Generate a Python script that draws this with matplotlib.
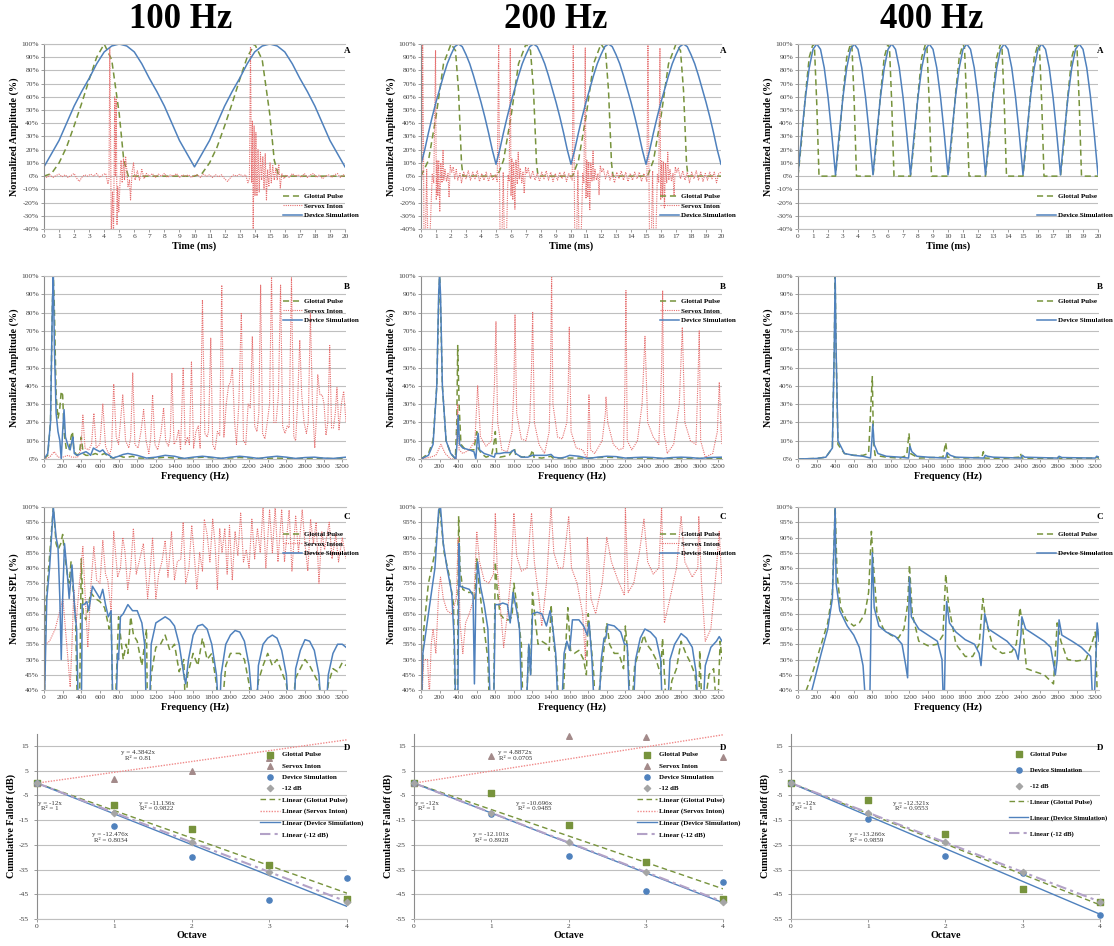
"""
Three-column comparison (100 / 200 / 400 Hz): waveform, spectrum, SPL and
cumulative falloff of glottal pulse, Servox Inton and device simulation.
"""

import numpy as np
import matplotlib
matplotlib.use("Agg")
import matplotlib.pyplot as plt

plt.rcParams["font.family"] = "Liberation Serif"
plt.rcParams["axes.unicode_minus"] = False

W, H = 1114, 946
GREEN = "#77933C"
RED = "#E66E6E"
BLUE = "#4F81BD"
GRID = "#BFBFBF"
AXIS = "#8C8C8C"
TICK = "#404040"
MAUVE = "#A38A8A"
GREY = "#A5A5A5"
LILAC = "#B3A2C7"

# ---------------------------------------------------------------------------
# Row A: time waveforms (ms, %)
# ---------------------------------------------------------------------------

t_half_ms = [i * 0.5 for i in range(41)]
t_quarter_ms = [i * 0.25 for i in range(81)]

dev_a100 = [7, 17, 27, 40, 53, 64, 74, 85, 94, 98.5, 100, 98.5, 94, 85, 74, 64, 53, 40, 27, 17,
            7, 17, 27, 40, 53, 64, 74, 85, 94, 98.5, 100, 98.5, 94, 85, 74, 64, 53, 40, 27, 17, 7]

glot_a100 = [(0, 0), (0.5, 2), (1.0, 10), (1.5, 22), (2.0, 38), (2.5, 55), (3.0, 73), (3.5, 90),
             (4.0, 100), (4.5, 88), (5.0, 47), (5.3, 12), (5.6, 0), (10.0, 0), (10.5, 2), (11.0, 10),
             (11.5, 22), (12.0, 38), (12.5, 55), (13.0, 73), (13.5, 90), (14.0, 100), (14.5, 88),
             (15.0, 47), (15.3, 12), (15.6, 0), (20, 0)]

servox_a100 = [(0, 0), (0.2, -1), (0.4, 1), (0.6, -1), (0.8, 0.5), (1.0, 1.5), (1.2, -0.5), (1.4, 1),
               (1.6, -1), (1.8, 0.5), (2.0, 2), (2.2, -2), (2.35, -4), (2.5, -1), (2.7, 1), (2.9, 0),
               (3.1, 1.5), (3.3, 0), (3.5, 2), (3.7, -1), (3.9, 1), (4.1, 2), (4.25, -6), (4.32, -2),
               (4.37, 97), (4.42, 35), (4.47, -45), (4.55, -12), (4.62, -45), (4.7, 60), (4.74, 0),
               (4.8, 58), (4.85, -37), (4.9, -8), (4.97, -27), (5.05, -5), (5.12, 12), (5.2, -5),
               (5.28, 13), (5.35, -3), (5.42, 15), (5.5, 5), (5.58, -8), (5.68, -3), (5.75, -18),
               (5.85, 3), (5.95, 10), (6.05, -3), (6.2, 4), (6.35, -3), (6.5, 5), (6.65, -2), (6.8, 2),
               (7.0, 0), (7.2, 2), (7.4, -1), (7.6, 1.5), (7.8, 0), (8.0, 2), (8.2, -1), (8.4, 1),
               (8.6, 0), (8.8, 2), (9.0, -1), (9.2, 1), (9.4, 0), (9.6, 1), (9.8, -1), (10.0, 0.5),
               (10.2, 1), (10.4, -1), (10.6, 1.5), (10.8, 0), (11.0, 1), (11.2, -1), (11.4, 1),
               (11.6, -0.5), (11.8, 1), (12.0, -2), (12.2, -4), (12.4, -1), (12.6, 1), (12.8, 0),
               (13.0, 1.5), (13.2, 0), (13.4, 1), (13.55, -5), (13.65, -2), (13.72, 98), (13.76, 40),
               (13.8, -5), (13.85, 42), (13.9, -45), (13.96, 38), (14.02, -15), (14.08, 33),
               (14.15, -15), (14.22, 20), (14.3, -12), (14.38, 18), (14.46, -3), (14.54, 15),
               (14.62, -10), (14.7, 17), (14.78, -18), (14.86, 5), (14.94, -8), (15.02, 10),
               (15.1, -5), (15.2, 8), (15.3, -3), (15.4, 6), (15.5, -3), (15.6, 9), (15.7, -9),
               (15.8, 2), (15.95, -2), (16.1, 1), (16.3, -1), (16.5, 2), (16.7, 0), (16.9, 1),
               (17.1, -1), (17.3, 2), (17.5, -1), (17.7, 1), (17.9, 2), (18.1, -1), (18.3, 1),
               (18.5, -2), (18.7, 0), (18.9, 1), (19.1, -1), (19.3, 1), (19.5, 2), (19.7, -1),
               (19.9, 1), (20, 0)]

dev_a200 = [9, 20, 33, 45, 56, 66, 76, 85, 92, 98, 100, 98, 92, 85, 76, 66, 56, 45, 33, 20,
            9, 20, 33, 45, 56, 66, 76, 85, 92, 98, 100, 98, 92, 85, 76, 66, 56, 45, 33, 20,
            9, 20, 33, 45, 56, 66, 76, 85, 92, 98, 100, 98, 92, 85, 76, 66, 56, 45, 33, 20,
            9, 20, 33, 45, 56, 66, 76, 85, 92, 98, 100, 98, 92, 85, 76, 66, 56, 45, 33, 20, 9]

glot_a200 = [(0, 0), (0.5, 12), (1.0, 45), (1.5, 85), (2.0, 100), (2.3, 95), (2.5, 65), (2.7, 10),
             (2.8, 0), (5.1, 0), (5.5, 12), (6.0, 45), (6.5, 85), (7.0, 100), (7.3, 95), (7.5, 65),
             (7.7, 10), (7.8, 0), (10.1, 0), (10.5, 12), (11.0, 45), (11.5, 85), (12.0, 100),
             (12.3, 95), (12.5, 65), (12.7, 10), (12.8, 0), (15.1, 0), (15.5, 12), (16.0, 45),
             (16.5, 85), (17.0, 100), (17.3, 95), (17.5, 65), (17.7, 10), (17.8, 0), (20, 0)]

servox_a200 = [(0.0, 0), (0.06, -3), (0.11, 102), (0.16, 30), (0.2, -45), (0.3, -45), (0.38, 5),
               (0.45, -45), (0.6, -45), (0.75, 2), (0.85, -5), (0.97, 95), (1.02, -18), (1.07, 12),
               (1.12, -15), (1.18, 12), (1.25, -27), (1.32, 10), (1.4, -5), (1.47, 20), (1.52, -3),
               (1.6, 5), (1.7, -4), (1.8, 2), (1.87, -16), (1.95, 8), (2.05, 3), (2.15, 7),
               (2.25, -2), (2.35, 5), (2.45, -3), (2.6, 2), (2.7, -5), (2.85, 3), (3.0, -2),
               (3.15, 4), (3.3, -3), (3.45, 3), (3.6, -2), (3.75, 4), (3.9, -4), (4.05, 2),
               (4.2, -3), (4.35, 3), (4.5, -4), (4.65, 2), (4.8, -3), (4.95, 1),
               (5.08, -4), (5.18, 101), (5.22, 20), (5.27, -45), (5.4, -45), (5.48, 3), (5.55, -45),
               (5.7, -45), (5.8, 1), (5.88, -4), (5.95, 97), (6.0, -15), (6.06, 13), (6.12, -18),
               (6.18, 10), (6.26, -25), (6.33, 12), (6.42, -6), (6.48, 18), (6.55, -2), (6.62, 6),
               (6.72, -5), (6.8, 3), (6.88, -13), (6.97, 7), (7.05, 2), (7.15, 6), (7.3, -2),
               (7.45, 4), (7.6, -3), (7.75, 2), (7.9, -4), (8.05, 3), (8.2, -2), (8.35, 4),
               (8.5, -3), (8.65, 3), (8.8, -4), (8.95, 2), (9.1, -3), (9.25, 3), (9.4, -2),
               (9.55, 3), (9.7, -4), (9.85, 2), (9.98, -1),
               (10.08, -3), (10.15, 101), (10.2, 25), (10.25, -45), (10.38, -45), (10.46, 4),
               (10.53, -45), (10.68, -45), (10.78, 2), (10.86, -5), (10.95, 97), (11.0, -17),
               (11.06, 12), (11.12, -16), (11.18, 11), (11.25, -26), (11.32, 10), (11.4, -4),
               (11.47, 19), (11.53, -3), (11.6, 5), (11.7, -3), (11.8, 2), (11.87, -14), (11.95, 8),
               (12.05, 3), (12.15, 6), (12.3, -2), (12.45, 4), (12.6, -3), (12.75, 2), (12.9, -5),
               (13.05, 3), (13.2, -2), (13.35, 4), (13.5, -3), (13.65, 3), (13.8, -4), (13.95, 2),
               (14.1, -3), (14.25, 3), (14.4, -2), (14.55, 3), (14.7, -4), (14.85, 2), (14.98, -1),
               (15.06, -4), (15.13, 100), (15.18, 22), (15.23, -45), (15.36, -45), (15.44, 4),
               (15.51, -45), (15.66, -45), (15.76, 2), (15.85, -5), (15.93, 97), (15.98, -18),
               (16.04, 12), (16.1, -16), (16.16, 11), (16.23, -24), (16.3, 10), (16.38, -5),
               (16.45, 18), (16.52, -3), (16.6, 5), (16.7, -4), (16.8, 2), (16.87, -15), (16.95, 7),
               (17.05, 3), (17.15, 6), (17.3, -2), (17.45, 4), (17.6, -3), (17.75, 3), (17.9, -5),
               (18.05, 3), (18.2, -2), (18.35, 4), (18.5, -3), (18.65, 3), (18.8, -4), (18.95, 2),
               (19.1, -3), (19.25, 3), (19.4, -2), (19.55, 3), (19.7, -5), (19.85, 2), (20.0, 3)]

dev_a400 = [1, 32, 60, 82, 96, 100, 96, 82, 60, 32, 1, 32, 60, 82, 96, 100, 96, 82, 60, 32,
            1, 32, 60, 82, 96, 100, 96, 82, 60, 32, 1, 32, 60, 82, 96, 100, 96, 82, 60, 32,
            1, 32, 60, 82, 96, 100, 96, 82, 60, 32, 1, 32, 60, 82, 96, 100, 96, 82, 60, 32,
            1, 32, 60, 82, 96, 100, 96, 82, 60, 32, 1, 32, 60, 82, 96, 100, 96, 82, 60, 32, 1]

glot_a400 = [(0, 0), (0.25, 28), (0.5, 62), (0.75, 90), (1.0, 100), (1.1, 97), (1.25, 55), (1.4, 0),
             (2.5, 0), (2.75, 28), (3.0, 62), (3.25, 90), (3.5, 100), (3.6, 97), (3.75, 55), (3.9, 0),
             (5.0, 0), (5.25, 28), (5.5, 62), (5.75, 90), (6.0, 100), (6.1, 97), (6.25, 55), (6.4, 0),
             (7.5, 0), (7.75, 28), (8.0, 62), (8.25, 90), (8.5, 100), (8.6, 97), (8.75, 55), (8.9, 0),
             (10.0, 0), (10.25, 28), (10.5, 62), (10.75, 90), (11.0, 100), (11.1, 97), (11.25, 55),
             (11.4, 0), (12.5, 0), (12.75, 28), (13.0, 62), (13.25, 90), (13.5, 100), (13.6, 97),
             (13.75, 55), (13.9, 0), (15.0, 0), (15.25, 28), (15.5, 62), (15.75, 90), (16.0, 100),
             (16.1, 97), (16.25, 55), (16.4, 0), (17.5, 0), (17.75, 28), (18.0, 62), (18.25, 90),
             (18.5, 100), (18.6, 97), (18.75, 55), (18.9, 0), (20.0, 0)]

# ---------------------------------------------------------------------------
# Row B: normalized amplitude spectra (Hz, %)
# ---------------------------------------------------------------------------

glot_b100 = [(0, 0), (40, 2), (70, 20), (90, 85), (100, 100), (110, 85), (130, 35), (150, 22),
             (170, 28), (185, 37), (200, 35), (215, 15), (240, 5), (270, 5), (290, 12), (305, 15),
             (320, 5), (350, 2), (380, 3), (400, 12), (420, 3), (450, 2), (500, 2), (550, 3),
             (600, 2), (650, 3), (700, 1), (750, 0.5), (800, 2), (850, 1), (900, 1), (950, 1.5),
             (1000, 0.5), (1100, 0.5), (1200, 0.5), (1300, 1), (1400, 0.5), (1500, 0.3), (1700, 1),
             (1900, 0.3), (2100, 0.8), (2300, 0.3), (2500, 0.5), (2700, 0.2), (2900, 0.5),
             (3100, 0.2), (3240, 0.5)]
dev_b100 = [(0, 0), (40, 3), (70, 20), (90, 85), (100, 101), (112, 60), (130, 25), (150, 15),
            (170, 10), (185, 0), (200, 15), (215, 27), (230, 12), (260, 7), (280, 5), (300, 10),
            (310, 12), (325, 3), (360, 2), (400, 3), (450, 4), (480, 3), (500, 2), (530, 6),
            (560, 5), (600, 4), (630, 5), (660, 3), (700, 2), (740, 0.5), (800, 1.5), (850, 2.5),
            (900, 3), (950, 2.5), (1000, 2), (1100, 0.5), (1200, 1), (1300, 2), (1400, 1.5),
            (1500, 0.3), (1600, 1), (1700, 1.5), (1800, 1), (1900, 0.3), (2000, 1), (2100, 1.5),
            (2200, 1), (2300, 0.3), (2400, 1), (2500, 1.5), (2600, 1), (2700, 0.3), (2800, 0.8),
            (2900, 1), (3000, 0.5), (3100, 0.3), (3240, 1)]
servox_b100 = [(0, 0), (60, 1), (110, 4), (150, 1), (200, 1), (260, 2), (300, 1), (360, 1), (395, 5),
               (417, 24), (440, 6), (480, 5), (510, 8), (535, 25), (560, 6), (600, 8), (631, 30),
               (660, 7), (700, 2), (725, 6), (748, 41), (775, 12), (800, 8), (820, 20), (845, 35),
               (875, 10), (910, 6), (930, 12), (952, 47), (975, 8), (1010, 6), (1040, 15),
               (1069, 27), (1095, 10), (1125, 3), (1145, 12), (1165, 35), (1190, 8), (1220, 5),
               (1255, 14), (1283, 28), (1305, 10), (1335, 7), (1355, 12), (1372, 47), (1395, 8),
               (1420, 10), (1445, 16), (1465, 5), (1493, 50), (1515, 8), (1540, 12), (1560, 8),
               (1582, 53), (1605, 6), (1630, 15), (1655, 18), (1675, 6), (1700, 87), (1725, 14),
               (1750, 12), (1765, 15), (1789, 66), (1810, 8), (1835, 5), (1860, 15), (1885, 13),
               (1907, 95), (1930, 12), (1955, 30), (1980, 40), (2000, 42), (2021, 50), (2045, 20),
               (2065, 8), (2090, 30), (2117, 80), (2140, 10), (2165, 8), (2190, 30), (2213, 28),
               (2235, 67), (2260, 18), (2285, 15), (2305, 25), (2324, 95), (2345, 14), (2370, 11),
               (2395, 20), (2420, 30), (2441, 100), (2465, 20), (2490, 20), (2515, 35), (2538, 95),
               (2560, 18), (2585, 14), (2610, 18), (2630, 17), (2655, 99), (2680, 12), (2700, 10),
               (2720, 30), (2744, 65), (2765, 35), (2790, 20), (2815, 14), (2835, 20), (2858, 80),
               (2880, 30), (2905, 6), (2920, 20), (2937, 46), (2960, 35), (2985, 35), (3005, 30),
               (3025, 13), (3045, 20), (3065, 62), (3085, 17), (3105, 17), (3125, 25), (3143, 39),
               (3165, 16), (3190, 30), (3215, 37), (3240, 20)]

glot_b200 = [(0, 0), (80, 3), (130, 10), (170, 40), (190, 85), (200, 100), (210, 85), (230, 40),
             (270, 10), (320, 3), (370, 0), (385, 20), (395, 62), (410, 30), (430, 8), (480, 5),
             (540, 5), (570, 5), (590, 12), (600, 15), (615, 6), (650, 3), (700, 1), (760, 2),
             (790, 10), (800, 15), (815, 3), (850, 1), (950, 2), (990, 5), (1005, 6), (1020, 2),
             (1100, 1), (1180, 2), (1200, 5), (1215, 1), (1300, 0.5), (1400, 1.5), (1420, 0.5),
             (1600, 0.5), (1800, 0.5), (2000, 1), (2200, 0.5), (2400, 0.5), (2600, 0.3),
             (2800, 0.5), (3000, 0.3), (3240, 0.3)]
dev_b200 = [(0, 0), (80, 2), (130, 8), (170, 40), (190, 90), (200, 101), (210, 90), (230, 40),
            (270, 10), (320, 3), (375, 0), (390, 10), (400, 24), (415, 8), (450, 6), (520, 5),
            (570, 4), (590, 0), (605, 10), (615, 14), (630, 5), (680, 3), (740, 2), (790, 1),
            (800, 3), (850, 3), (900, 3.5), (960, 3.5), (1000, 5), (1020, 3), (1080, 1), (1150, 1),
            (1200, 2), (1250, 2), (1350, 2), (1400, 2.5), (1430, 1), (1500, 0.5), (1550, 1),
            (1600, 2), (1700, 1.5), (1800, 0.3), (1900, 1), (2000, 1.5), (2100, 1.3), (2200, 0.5),
            (2300, 0.8), (2400, 1), (2500, 0.8), (2600, 0.3), (2700, 0.8), (2800, 1), (2900, 0.8),
            (3000, 0.3), (3100, 0.8), (3240, 1)]
servox_b200 = [(0, 0), (100, 1), (160, 2), (215, 8), (260, 3), (320, 0), (380, 0), (395, 30),
               (410, 5), (450, 3), (520, 5), (580, 10), (610, 40), (640, 12), (700, 7), (760, 10),
               (790, 40), (807, 75), (825, 20), (870, 5), (930, 4), (980, 15), (1000, 40),
               (1012, 79), (1030, 25), (1080, 11), (1130, 10), (1170, 20), (1190, 50), (1202, 80),
               (1220, 20), (1270, 8), (1330, 3), (1380, 15), (1395, 50), (1406, 100), (1420, 30),
               (1470, 12), (1520, 11), (1570, 20), (1585, 40), (1596, 72), (1615, 15), (1670, 6),
               (1740, 5), (1790, 0), (1800, 20), (1808, 35), (1825, 5), (1870, 3), (1950, 10),
               (1985, 25), (1991, 34), (2010, 20), (2070, 8), (2130, 5), (2180, 6), (2195, 40),
               (2206, 92), (2220, 10), (2270, 5), (2330, 10), (2380, 30), (2411, 67), (2440, 20),
               (2500, 12), (2560, 8), (2590, 50), (2601, 92), (2615, 15), (2650, 3), (2720, 8),
               (2780, 30), (2813, 72), (2840, 20), (2900, 10), (2960, 8), (2985, 50), (2995, 70),
               (3010, 10), (3060, 1), (3140, 3), (3190, 15), (3211, 42), (3230, 15), (3240, 8)]

glot_b400 = [(0, 0), (200, 0.3), (300, 1), (370, 6), (390, 60), (400, 100), (410, 60), (430, 8),
             (500, 3), (600, 2), (700, 2), (760, 3), (785, 30), (800, 45), (812, 10), (830, 2),
             (950, 1), (1100, 0.5), (1170, 2), (1195, 14), (1210, 3), (1300, 0.5), (1560, 1),
             (1590, 9), (1610, 1), (1800, 0.5), (1980, 1), (1995, 4), (2010, 0.5), (2200, 0.3),
             (2380, 1), (2395, 3), (2410, 0.5), (2600, 0.3), (2790, 0.5), (2800, 1), (2820, 0.3),
             (3200, 0.5), (3220, 1), (3240, 0.3)]
dev_b400 = [(0, 0), (200, 0.3), (300, 1), (370, 6), (390, 60), (400, 100), (410, 60), (430, 10),
            (500, 3), (600, 2), (700, 1.5), (780, 0.5), (795, 10), (805, 19), (820, 8), (860, 3),
            (950, 1.5), (1100, 1), (1190, 0.5), (1205, 7), (1225, 4), (1280, 1.5), (1400, 1),
            (1590, 0.5), (1605, 3.5), (1640, 2), (1700, 1), (2000, 0.5), (2015, 2), (2040, 1.5),
            (2100, 1), (2400, 0.5), (2415, 2), (2440, 1), (2800, 0.5), (2810, 1.5), (2840, 0.8),
            (3200, 0.5), (3215, 1.5), (3240, 1)]

# ---------------------------------------------------------------------------
# Row C: normalized SPL (Hz, %)
# ---------------------------------------------------------------------------

glot_c100 = [(0, 30), (20, 68), (50, 80), (100, 100), (130, 88), (150, 86), (180, 88), (200, 91),
             (220, 85), (250, 78), (270, 75), (290, 82), (310, 74), (340, 62), (360, 30), (380, 30),
             (400, 83), (420, 65), (450, 63), (480, 68), (500, 72), (550, 70), (600, 69),
             (650, 67), (700, 60), (720, 65), (740, 30), (760, 30), (800, 64), (820, 58), (850, 50),
             (880, 55), (900, 52), (930, 64), (960, 58), (1000, 56), (1050, 48), (1100, 60),
             (1110, 30), (1130, 30), (1150, 45), (1200, 54), (1250, 55), (1300, 58), (1350, 53),
             (1400, 55), (1450, 46), (1500, 50), (1520, 30), (1540, 45), (1600, 52), (1650, 48),
             (1700, 57), (1750, 50), (1800, 52), (1850, 42), (1880, 30), (1900, 30), (1950, 48),
             (2000, 52), (2100, 52), (2150, 50), (2200, 42), (2250, 30), (2300, 43), (2350, 48),
             (2400, 52), (2450, 48), (2500, 50), (2550, 46), (2600, 42), (2650, 30), (2700, 44),
             (2800, 50), (2850, 48), (2900, 45), (2950, 42), (3000, 30), (3050, 42), (3100, 47),
             (3150, 46), (3200, 49), (3240, 48)]
dev_c100 = [(0, 30), (30, 70), (60, 80), (100, 100), (130, 90), (150, 87), (170, 70), (185, 50),
            (200, 70), (220, 88), (250, 78), (270, 70), (300, 81), (330, 66), (350, 60), (370, 30),
            (400, 30), (410, 68), (430, 68), (460, 69), (480, 66), (520, 74), (560, 72), (600, 70),
            (630, 73), (660, 68), (690, 64), (720, 66), (740, 30), (770, 30), (790, 52), (800, 50),
            (820, 64), (850, 65), (900, 68), (950, 66), (1000, 66), (1050, 62), (1080, 55),
            (1100, 30), (1130, 30), (1150, 55), (1200, 62), (1250, 63), (1300, 64), (1350, 63),
            (1400, 61), (1450, 55), (1500, 45), (1520, 42), (1550, 50), (1600, 58), (1650, 61),
            (1700, 61.5), (1750, 60), (1800, 55), (1850, 45), (1880, 30), (1900, 45), (1950, 55),
            (2000, 58), (2050, 59.5), (2100, 59), (2150, 56), (2200, 48), (2250, 30), (2280, 30),
            (2300, 48), (2350, 55), (2400, 57), (2450, 58), (2500, 57), (2550, 53), (2600, 45),
            (2630, 30), (2680, 30), (2700, 47), (2750, 53), (2800, 56.5), (2850, 56), (2900, 53),
            (2950, 45), (2980, 30), (3020, 30), (3050, 45), (3100, 52), (3150, 55), (3200, 55),
            (3240, 54)]
servox_c100 = [(0, 30), (15, 55), (60, 56), (120, 60), (170, 66), (203, 70), (230, 60), (257, 50),
               (281, 41), (300, 55), (320, 73), (345, 62), (380, 75), (417, 87), (440, 72),
               (470, 54), (505, 75), (535, 87), (565, 76), (600, 75), (631, 89), (660, 78),
               (684, 76), (720, 66), (748, 92), (790, 77), (820, 80), (845, 90), (870, 85),
               (898, 73), (930, 80), (959, 93), (990, 78), (1020, 82), (1066, 88), (1090, 79),
               (1112, 70), (1140, 80), (1165, 90), (1200, 70), (1230, 78), (1265, 82), (1300, 89),
               (1330, 77), (1368, 92), (1400, 76), (1430, 82), (1468, 83), (1493, 95), (1520, 75),
               (1555, 80), (1585, 94), (1610, 85), (1640, 73), (1670, 85), (1700, 79), (1720, 96),
               (1750, 91), (1780, 82), (1810, 96), (1835, 88), (1860, 73), (1885, 93), (1910, 85),
               (1940, 93), (1965, 78), (1990, 94), (2020, 76), (2050, 92), (2080, 84), (2110, 98),
               (2140, 82), (2170, 86), (2200, 80), (2230, 96), (2260, 83), (2290, 93), (2320, 85),
               (2350, 100), (2380, 80), (2420, 99), (2450, 85), (2480, 100), (2510, 82),
               (2550, 99), (2580, 82), (2630, 99), (2660, 79), (2700, 97), (2730, 85), (2770, 99),
               (2800, 88), (2830, 79), (2860, 96), (2890, 88), (2920, 95), (2950, 75), (2980, 92),
               (3010, 86), (3060, 95), (3090, 83), (3130, 91), (3160, 82), (3200, 90), (3240, 83)]

glot_c200 = [(0, 30), (30, 60), (80, 75), (150, 85), (200, 100), (250, 85), (300, 78), (350, 68),
             (370, 30), (390, 30), (405, 97), (420, 80), (450, 73), (500, 72), (550, 72), (580, 70),
             (600, 83), (630, 73), (680, 60), (720, 50), (740, 30), (780, 30), (800, 82), (820, 73),
             (850, 65), (900, 63), (950, 63), (980, 64), (1000, 75), (1030, 68), (1080, 55),
             (1100, 30), (1130, 30), (1160, 55), (1180, 45), (1200, 72), (1230, 63), (1260, 55),
             (1300, 56), (1350, 55), (1380, 53), (1400, 68), (1430, 55), (1460, 48), (1490, 30),
             (1520, 30), (1550, 50), (1580, 67), (1610, 53), (1650, 52), (1700, 53), (1750, 50),
             (1780, 45), (1800, 65), (1830, 55), (1860, 45), (1880, 30), (1950, 48), (2000, 62),
             (2030, 55), (2080, 52), (2130, 52), (2180, 47), (2200, 61), (2230, 50), (2260, 30),
             (2300, 48), (2350, 53), (2400, 58), (2430, 55), (2480, 53), (2530, 50), (2580, 45),
             (2600, 57), (2620, 45), (2650, 30), (2700, 43), (2750, 47), (2800, 56), (2850, 52),
             (2900, 49), (2950, 45), (2990, 30), (3000, 53), (3030, 30), (3100, 45), (3150, 47),
             (3190, 30), (3220, 56), (3240, 50)]
dev_c200 = [(0, 30), (20, 52), (80, 65), (150, 80), (190, 99), (210, 100), (240, 88), (280, 80),
            (330, 72), (360, 55), (375, 30), (395, 30), (410, 88), (420, 74), (470, 73.5),
            (520, 73), (560, 71), (575, 42), (590, 70), (610, 82), (640, 74), (680, 68), (720, 60),
            (750, 30), (780, 30), (800, 68), (840, 68), (880, 68.5), (930, 68), (960, 62),
            (990, 72), (1030, 66), (1060, 60), (1090, 30), (1130, 30), (1160, 55), (1180, 45),
            (1200, 65), (1250, 65.5), (1300, 65), (1350, 61), (1390, 66), (1420, 60), (1450, 52),
            (1480, 30), (1510, 30), (1540, 52), (1570, 56), (1600, 53), (1630, 63), (1700, 63),
            (1750, 61), (1790, 58), (1810, 62), (1840, 50), (1870, 30), (1910, 30), (1940, 50),
            (1970, 57), (1990, 57), (2010, 61.5), (2080, 61), (2150, 59), (2190, 55), (2220, 55),
            (2250, 30), (2280, 30), (2310, 50), (2360, 57), (2410, 60), (2470, 59), (2530, 57),
            (2580, 50), (2600, 30), (2650, 30), (2680, 50), (2730, 55), (2800, 58.5), (2860, 57),
            (2920, 54), (2960, 46), (2990, 30), (3030, 30), (3060, 48), (3120, 54), (3180, 56),
            (3210, 57.5), (3240, 56)]
servox_c200 = [(0, 30), (30, 50), (70, 50), (90, 38), (110, 55), (130, 60), (160, 52), (190, 72),
               (210, 77), (240, 70), (280, 66), (330, 65), (380, 70), (400, 90), (420, 62),
               (450, 52), (480, 62), (520, 65), (570, 70), (600, 92), (630, 82), (680, 76),
               (730, 75), (780, 78), (800, 98), (820, 80), (860, 65), (890, 54), (930, 65),
               (970, 78), (1000, 98), (1030, 84), (1080, 79), (1140, 80), (1190, 98), (1220, 82),
               (1270, 70), (1300, 61), (1350, 75), (1400, 100), (1430, 85), (1480, 80), (1530, 80),
               (1590, 97), (1620, 80), (1680, 75), (1740, 65), (1770, 50), (1790, 90), (1830, 70),
               (1880, 65), (1950, 75), (2000, 90), (2050, 82), (2120, 76), (2190, 71), (2200, 100),
               (2230, 72), (2290, 75), (2350, 85), (2400, 96), (2440, 82), (2500, 78), (2560, 80),
               (2590, 100), (2620, 62), (2680, 70), (2750, 80), (2800, 97), (2840, 82), (2920, 77),
               (2980, 80), (2990, 97), (3020, 75), (3060, 56), (3120, 60), (3180, 80), (3210, 92),
               (3240, 75)]

glot_c400 = [(60, 30), (90, 40), (150, 45), (250, 55), (320, 62), (370, 72), (400, 100), (420, 78),
             (460, 67), (520, 63), (600, 61), (660, 62), (720, 65), (760, 72), (790, 92), (810, 82),
             (850, 65), (920, 60), (1000, 58), (1080, 57), (1140, 60), (1180, 68), (1200, 81),
             (1230, 65), (1300, 56), (1400, 54.5), (1500, 55), (1560, 58), (1590, 78), (1620, 68),
             (1700, 55), (1800, 51), (1880, 51), (1950, 55), (1990, 70), (2020, 63), (2100, 54),
             (2200, 52), (2300, 52.5), (2350, 55), (2390, 67), (2420, 60), (2460, 47), (2550, 46),
             (2650, 45), (2750, 42), (2790, 62), (2830, 56), (2900, 50), (3000, 49.5), (3100, 50),
             (3160, 55), (3200, 59), (3230, 30)]
dev_c400 = [(120, 30), (150, 40), (250, 52), (320, 60), (370, 70), (400, 100), (410, 75), (450, 66),
            (530, 61), (600, 58), (660, 54), (700, 48), (740, 30), (770, 30), (790, 70), (800, 85),
            (820, 67), (870, 61), (950, 59), (1050, 57.5), (1120, 55), (1160, 48), (1180, 44),
            (1200, 77), (1220, 64), (1300, 60), (1400, 58), (1500, 56), (1550, 50), (1570, 30),
            (1590, 60), (1600, 69), (1630, 62), (1700, 59), (1800, 56.5), (1900, 55), (1950, 52),
            (1970, 48), (2000, 60), (2010, 65), (2050, 60), (2150, 58), (2250, 56), (2340, 53),
            (2370, 50), (2400, 58), (2410, 64), (2450, 60), (2550, 58), (2650, 56), (2720, 54),
            (2770, 45), (2790, 50), (2810, 63), (2840, 58), (2950, 56), (3050, 54), (3150, 51),
            (3180, 30), (3200, 45), (3220, 62), (3240, 56)]

# ---------------------------------------------------------------------------
# Row D: cumulative falloff per octave (dB) and linear-fit slopes
# ---------------------------------------------------------------------------

octaves = [0, 1, 2, 3, 4]
minus12 = [0, -12, -24, -36, -48]

glot_d100 = [0, -9, -18.5, -33, -47]
servox_d100 = [0, 1.5, 5, 10]
dev_d100 = [0, -17.5, -30, -47.5, -38.5]
slopes_d100 = {"glot": -11.136, "servox": 4.3842, "dev": -12.476, "m12": -12}

glot_d200 = [0, -4, -17, -32, -47]
servox_d200 = [0, 11, 19, 18.5, 10.5]
dev_d200 = [0, -12.5, -29.5, -43.5, -40]
slopes_d200 = {"glot": -10.696, "servox": 4.8872, "dev": -12.101, "m12": -12}

glot_d400 = [0, -7, -20.5, -43, -48]
dev_d400 = [0, -14.5, -29.5, -36.5, -53.5]
slopes_d400 = {"glot": -12.321, "dev": -13.266, "m12": -12}

# ---------------------------------------------------------------------------
# Layout (pixel boxes: left, top, right, bottom)
# ---------------------------------------------------------------------------

fig = plt.figure(figsize=(W / 100, H / 100), dpi=100)
fig.patch.set_facecolor("white")


def add_axes(left, top, right, bottom):
    return fig.add_axes([left / W, 1 - bottom / H, (right - left) / W, (bottom - top) / H])


def fig_xy(x, y):
    return x / W, 1 - y / H


COLS = [(44, 346), (421, 722), (798, 1099)]
COLS_D = [(37, 347), (414, 723), (791, 1100)]
LEG_X = [283, 660, 1037]
LEG_X_D = [260, 637, 1009]
LETTER_X = [347, 723, 1100]
TITLES = [("100 Hz", 181), ("200 Hz", 556), ("400 Hz", 932)]


def pairs(p):
    a = np.array(p, dtype=float)
    return a[:, 0], a[:, 1]


def style(ax, yvals, ylabels, xvals, xlabel, ylabel, top_line=True):
    ax.set_yticks(yvals)
    ax.set_yticklabels(ylabels)
    ax.set_xticks(xvals)
    ax.set_xticklabels([str(v) for v in xvals])
    ax.grid(axis="y", color=GRID, lw=0.8)
    ax.set_axisbelow(True)
    ax.spines["right"].set_visible(False)
    ax.spines["top"].set_visible(top_line)
    ax.spines["top"].set_color(GRID)
    ax.spines["bottom"].set_color(GRID)
    ax.spines["left"].set_color(AXIS)
    for s in ax.spines.values():
        s.set_linewidth(0.8)
    ax.tick_params(labelsize=5.4, labelcolor=TICK, color=AXIS, length=2, width=0.6, pad=1.5)
    ax.set_xlabel(xlabel, fontsize=7.3, fontweight="bold", labelpad=1.5)
    ax.set_ylabel(ylabel, fontsize=7.3, fontweight="bold", labelpad=2)


def legend(ax, handles, labels, x, y_first, spacing, hlen=2.7, size=5):
    ax.legend(handles, labels, loc="upper left", bbox_to_anchor=fig_xy(x, y_first - 2.5),
              bbox_transform=fig.transFigure, frameon=False, borderpad=0, borderaxespad=0,
              handlelength=hlen, handletextpad=0.3, labelspacing=spacing,
              prop={"family": "Liberation Serif", "weight": "bold", "size": size})


GLOT_STYLE = dict(color=GREEN, lw=1.1, ls=(0, (4, 2.5)))
SERVOX_STYLE = dict(color=RED, lw=0.8, ls=(0, (1, 1)))
DEV_STYLE = dict(color=BLUE, lw=1.1)

# Row A
pct_a = list(range(-40, 101, 10))
for i, (dev, glot, servox) in enumerate([(dev_a100, glot_a100, servox_a100),
                                         (dev_a200, glot_a200, servox_a200),
                                         (dev_a400, glot_a400, None)]):
    ax = add_axes(COLS[i][0], 44, COLS[i][1] - 1, 229)
    tx = t_half_ms if i == 0 else t_quarter_ms
    hs = []
    gx, gy = pairs(glot)
    hs.append(ax.plot(gx, gy, **GLOT_STYLE)[0])
    if servox is not None:
        sx, sy = pairs(servox)
        hs.append(ax.plot(sx, sy, **SERVOX_STYLE)[0])
    hs.append(ax.plot(tx, dev, **DEV_STYLE)[0])
    ax.set_xlim(0, 20)
    ax.set_ylim(-40, 100)
    style(ax, pct_a, [f"{v}%" for v in pct_a], list(range(21)), "Time (ms)",
          "Normalized Amplitude (%)")
    if servox is not None:
        legend(ax, hs, ["Glottal Pulse", "Servox Inton", "Device Simulation"], LEG_X[i], 196, 0.5)
    else:
        legend(ax, hs, ["Glottal Pulse", "Device Simulation"], LEG_X[i], 196, 1.85)
    fig.text(*fig_xy(LETTER_X[i], 51), "A", ha="center", va="center", fontsize=6.5,
             fontweight="bold")

# Rows B and C
freq_ticks = list(range(0, 3201, 200))
pct_b = list(range(0, 101, 10))
pct_c = list(range(40, 101, 5))
row_specs = [
    ("B", 276, 459, (0, 100), pct_b, "Normalized Amplitude (%)", 301, 287,
     [(glot_b100, servox_b100, dev_b100), (glot_b200, servox_b200, dev_b200),
      (glot_b400, None, dev_b400)]),
    ("C", 507, 690, (40, 100), pct_c, "Normalized SPL (%)", 534, 517,
     [(glot_c100, servox_c100, dev_c100), (glot_c200, servox_c200, dev_c200),
      (glot_c400, None, dev_c400)]),
]
for letter, top, bottom, ylim, yt, ylab, leg_y, let_y, series in row_specs:
    for i, (glot, servox, dev) in enumerate(series):
        ax = add_axes(COLS[i][0], top, COLS[i][1], bottom)
        hs = []
        gx, gy = pairs(glot)
        hs.append(ax.plot(gx, gy, **GLOT_STYLE)[0])
        if servox is not None:
            sx, sy = pairs(servox)
            hs.append(ax.plot(sx, sy, **SERVOX_STYLE)[0])
        dx, dy = pairs(dev)
        hs.append(ax.plot(dx, dy, **DEV_STYLE)[0])
        ax.set_xlim(0, 3240)
        ax.set_ylim(*ylim)
        style(ax, yt, [f"{v}%" for v in yt], freq_ticks, "Frequency (Hz)", ylab)
        if servox is not None:
            legend(ax, hs, ["Glottal Pulse", "Servox Inton", "Device Simulation"],
                   LEG_X[i], leg_y, 0.5)
        else:
            legend(ax, hs, ["Glottal Pulse", "Device Simulation"], LEG_X[i], leg_y, 1.85)
        fig.text(*fig_xy(LETTER_X[i], let_y), letter, ha="center", va="center", fontsize=6.5,
                 fontweight="bold")

# Row D
d_ticks = list(range(15, -56, -10))
fit_x = np.array([0, 4])
d_series = [
    (glot_d100, servox_d100, dev_d100, slopes_d100,
     [(1.3, 11.2, "y = 4.3842x\nR² = 0.81"), (0.17, -9.2, "y = -12x\nR² = 1"),
      (1.55, -9.2, "y = -11.136x\nR² = 0.9822"), (0.95, -22.0, "y = -12.476x\nR² = 0.8034")]),
    (glot_d200, servox_d200, dev_d200, slopes_d200,
     [(1.31, 11.2, "y = 4.8872x\nR² = 0.0705"), (0.17, -9.2, "y = -12x\nR² = 1"),
      (1.56, -9.2, "y = -10.696x\nR² = 0.9485"), (1.0, -22.0, "y = -12.101x\nR² = 0.8928")]),
    (glot_d400, None, dev_d400, slopes_d400,
     [(0.17, -9.2, "y = -12x\nR² = 1"), (1.56, -9.2, "y = -12.321x\nR² = 0.9553"),
      (0.98, -22.0, "y = -13.266x\nR² = 0.9859")]),
]
for i, (glot, servox, dev, slopes, notes) in enumerate(d_series):
    ax = add_axes(COLS_D[i][0], 733.7, COLS_D[i][1], 919)
    hs, labels = [], []
    hs.append(ax.scatter(octaves, glot, marker="s", s=14, color=GREEN, zorder=4, clip_on=False))
    labels.append("Glottal Pulse")
    if servox is not None:
        hs.append(ax.scatter(octaves[:len(servox)], servox, marker="^", s=16, color=MAUVE,
                             zorder=4, clip_on=False))
        labels.append("Servox Inton")
    hs.append(ax.scatter(octaves, dev, marker="o", s=14, color=BLUE, zorder=4, clip_on=False))
    labels.append("Device Simulation")
    hs.append(ax.scatter(octaves, minus12, marker="D", s=10, color=GREY, zorder=4, clip_on=False))
    labels.append("-12 dB")
    hs.append(ax.plot(fit_x, fit_x * slopes["glot"], color=GREEN, lw=1.0, ls=(0, (4, 2.5)),
                      zorder=3)[0])
    labels.append("Linear (Glottal Pulse)")
    if servox is not None:
        hs.append(ax.plot(fit_x, fit_x * slopes["servox"], color="#F08A8A", lw=1.0,
                          ls=(0, (1, 1)), zorder=3)[0])
        labels.append("Linear (Servox Inton)")
    hs.append(ax.plot(fit_x, fit_x * slopes["dev"], color=BLUE, lw=1.0, zorder=3)[0])
    labels.append("Linear (Device Simulation)")
    hs.append(ax.plot(fit_x, fit_x * slopes["m12"], color=LILAC, lw=1.5,
                      ls=(0, (5, 2, 1.5, 2)), zorder=3)[0])
    labels.append("Linear (-12 dB)")
    ax.set_xlim(0, 4)
    ax.set_ylim(-55, 20)
    style(ax, d_ticks, [str(v) for v in d_ticks], octaves, "Octave", "Cumulative Falloff (dB)",
          top_line=False)
    ax.tick_params(axis="y", pad=4)
    for x, y, s in notes:
        ax.text(x, y, s, ha="center", va="center", fontsize=5, color="#333333", linespacing=1.1)
    if servox is not None:
        legend(ax, hs, labels, LEG_X_D[i], 754, 0.78, hlen=2.9)
    else:
        legend(ax, hs, labels, LEG_X_D[i], 754, 1.5, hlen=2.9, size=4.8)
    fig.text(*fig_xy(LETTER_X[i], 748), "D", ha="center", va="center", fontsize=6.5,
             fontweight="bold")

for title, x in TITLES:
    fig.text(*fig_xy(x, 19), title, ha="center", va="center", fontsize=25, fontweight="bold")

fig.savefig("out.png", dpi=100, facecolor="white")
print("Saved out.png")
